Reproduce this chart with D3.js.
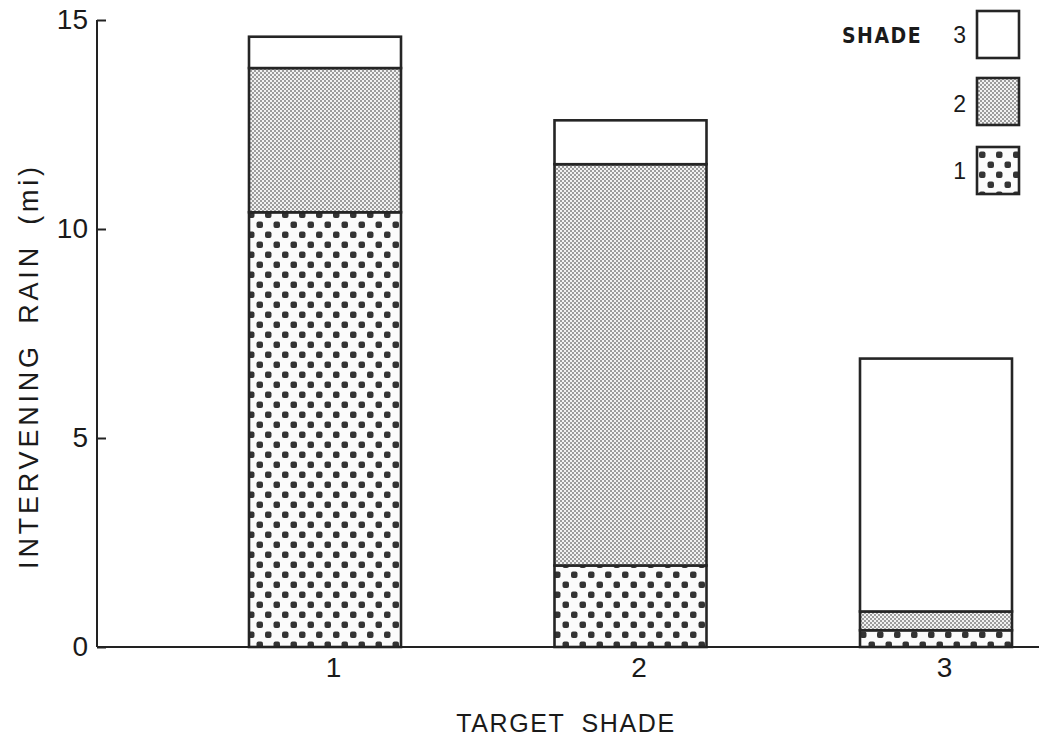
<!DOCTYPE html>
<html><head><meta charset="utf-8">
<script src="https://cdn.jsdelivr.net/npm/d3@7"></script>
<style>
html,body{margin:0;padding:0;background:#fff;}
svg{display:block;}
text{font-family:"Liberation Sans","DejaVu Sans",sans-serif;fill:#1a1a1a;}
</style></head>
<body>
<svg id="chart" width="1039" height="743"></svg>
<script>
const categories = ["1", "2", "3"];
const shade1 = [10.4, 1.95, 0.4];
const shade2 = [3.45, 9.6, 0.45];
const shade3 = [0.75, 1.05, 6.05];
const yTicks = [0, 5, 10, 15];
const legendItems = ["3", "2", "1"];

const svg = d3.select("#chart");
const defs = svg.append("defs");

// fine stipple for shade 2
const p2 = defs.append("pattern").attr("id","pat2").attr("patternUnits","userSpaceOnUse")
  .attr("width",4).attr("height",4);
p2.append("rect").attr("width",4).attr("height",4).attr("fill","#f2f2f2");
p2.append("circle").attr("cx",1).attr("cy",1).attr("r",1.0).attr("fill","#808080");
p2.append("circle").attr("cx",3).attr("cy",3).attr("r",1.0).attr("fill","#808080");

// coarse dots for shade 1
const p1 = defs.append("pattern").attr("id","pat1").attr("patternUnits","userSpaceOnUse")
  .attr("width",17).attr("height",20);
p1.append("rect").attr("width",17).attr("height",20).attr("fill","#fbfbfb");
p1.append("rect").attr("x",1.5).attr("y",1.5).attr("width",6.5).attr("height",6.5).attr("rx",2).attr("fill","#333");
p1.append("rect").attr("x",10).attr("y",11.5).attr("width",6.5).attr("height",6.5).attr("rx",2).attr("fill","#333");

const y = d3.scaleLinear().domain([0, 15]).range([647, 20]);
const x = d3.scalePoint().domain(categories).range([325, 936]);
const barW = 152;

const stacked = d3.stack().keys(["s1","s2","s3"])(
  categories.map((c,i)=>({cat:c, s1:shade1[i], s2:shade2[i], s3:shade3[i]})));
const fills = {s1:"url(#pat1)", s2:"url(#pat2)", s3:"#ffffff"};

stacked.forEach(layer=>{
  svg.append("g").selectAll("rect").data(layer).join("rect")
    .attr("x", d=>x(d.data.cat)-barW/2)
    .attr("y", d=>y(d[1]))
    .attr("width", barW)
    .attr("height", d=>y(d[0])-y(d[1]))
    .attr("fill", fills[layer.key])
    .attr("stroke","#252525").attr("stroke-width",2.6);
});

// y axis
const yAxis = svg.append("g").attr("transform","translate(97,0)")
  .call(d3.axisLeft(y).tickValues(yTicks).tickSize(-9).tickPadding(9).tickFormat(d3.format("d")));
yAxis.select(".domain").attr("d", `M0,${y(15)}V${y(0)}`).attr("stroke","#222").attr("stroke-width",2);
yAxis.selectAll(".tick line").attr("stroke","#222").attr("stroke-width",2);
yAxis.selectAll(".tick text").attr("font-size",28).attr("fill","#1a1a1a");

// x axis
const xAxis = svg.append("g").attr("transform",`translate(0,${y(0)})`)
  .call(d3.axisBottom(x).tickSize(0).tickPadding(10));
xAxis.select(".domain").attr("d","M97,0H1039").attr("stroke","#222").attr("stroke-width",2);
xAxis.selectAll(".tick text").attr("font-size",28).attr("fill","#1a1a1a").attr("dx",8);

// axis titles
svg.append("text").attr("x",566).attr("y",732).attr("text-anchor","middle")
  .attr("font-size",25).attr("letter-spacing",1.6).attr("word-spacing",8).text("TARGET SHADE");
svg.append("text").attr("transform","translate(38,366) rotate(-90)").attr("text-anchor","middle")
  .attr("font-size",27).attr("letter-spacing",3.8).attr("word-spacing",8).text("INTERVENING RAIN (mi)");

// legend
const legFill = {"3":"#ffffff","2":"url(#pat2)","1":"url(#pat1)"};
const lg = svg.append("g");
lg.selectAll("rect").data(legendItems).join("rect")
  .attr("x",977).attr("y",(d,i)=>[11,78,147][i]).attr("width",42).attr("height",47)
  .attr("fill",d=>legFill[d]).attr("stroke","#252525").attr("stroke-width",2.6);
lg.selectAll("text.num").data(legendItems).join("text").attr("class","num")
  .attr("x",966).attr("y",(d,i)=>[43,112,179][i]).attr("text-anchor","end")
  .attr("font-size",23).text(d=>d);
lg.append("text").attr("x",842).attr("y",43).attr("font-size",21).attr("font-weight","bold")
  .style("font-family","'DejaVu Sans Condensed','Liberation Sans Narrow',sans-serif").attr("letter-spacing",1.5).text("SHADE");
</script>
</body></html>
